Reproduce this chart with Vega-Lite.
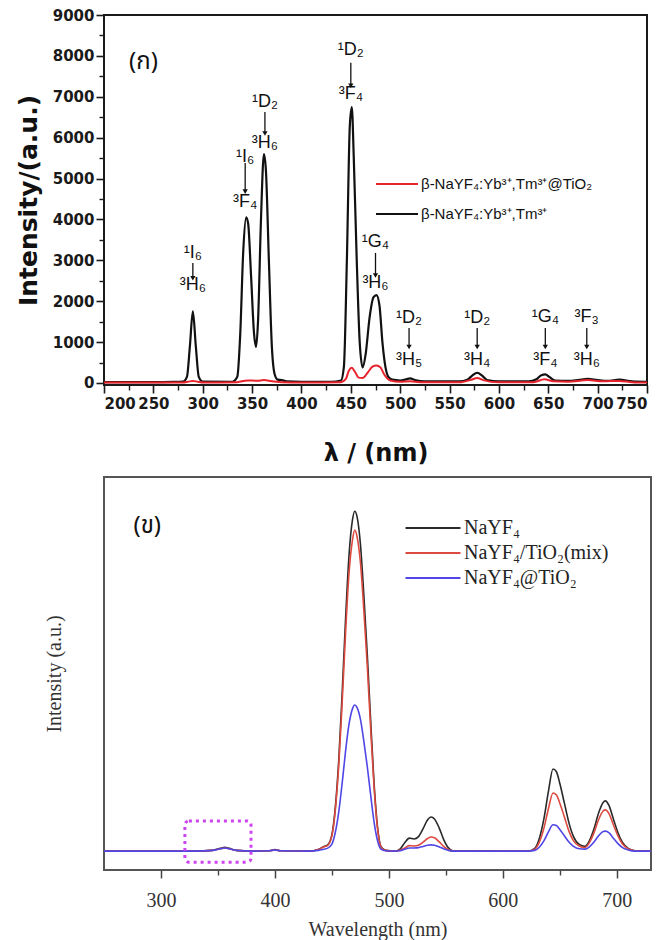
{
  "$schema": "https://vega.github.io/schema/vega-lite/v6.json",
  "background": "white",
  "padding": {"left": 15, "top": 7, "right": 4, "bottom": 2},
  "spacing": 10,
  "resolve": {"scale": {"color": "independent"}, "legend": {"color": "independent"}},
  "datasets": {
    "top": [
      {"s":"B","x":200,"y":20},{"s":"B","x":250,"y":20},{"s":"B","x":270,"y":25},{"s":"B","x":280,"y":35},{"s":"B","x":284,"y":150},{"s":"B","x":287,"y":900},{"s":"B","x":290,"y":1750},{"s":"B","x":293,"y":900},{"s":"B","x":296,"y":150},{"s":"B","x":300,"y":35},
      {"s":"B","x":330,"y":30},{"s":"B","x":335,"y":150},{"s":"B","x":338,"y":1200},{"s":"B","x":341,"y":3200},{"s":"B","x":344,"y":4050},{"s":"B","x":346,"y":3900},{"s":"B","x":349,"y":2600},{"s":"B","x":352,"y":1200},{"s":"B","x":354,"y":880},{"s":"B","x":356,"y":1500},{"s":"B","x":359,"y":4000},{"s":"B","x":362,"y":5600},{"s":"B","x":364,"y":5200},{"s":"B","x":367,"y":3000},{"s":"B","x":370,"y":900},{"s":"B","x":373,"y":200},{"s":"B","x":376,"y":80},{"s":"B","x":380,"y":70},{"s":"B","x":385,"y":40},
      {"s":"B","x":400,"y":30},{"s":"B","x":430,"y":30},{"s":"B","x":440,"y":60},{"s":"B","x":443,"y":400},{"s":"B","x":446,"y":3000},{"s":"B","x":449,"y":6300},{"s":"B","x":451,"y":6750},{"s":"B","x":453,"y":5500},{"s":"B","x":456,"y":3000},{"s":"B","x":459,"y":1000},{"s":"B","x":462,"y":380},{"s":"B","x":465,"y":700},{"s":"B","x":469,"y":1600},{"s":"B","x":473,"y":2100},{"s":"B","x":476,"y":2150},{"s":"B","x":479,"y":1900},{"s":"B","x":482,"y":1000},{"s":"B","x":485,"y":400},{"s":"B","x":488,"y":150},{"s":"B","x":492,"y":80},
      {"s":"B","x":500,"y":60},{"s":"B","x":505,"y":80},{"s":"B","x":510,"y":110},{"s":"B","x":515,"y":70},{"s":"B","x":525,"y":40},{"s":"B","x":560,"y":40},{"s":"B","x":568,"y":80},{"s":"B","x":573,"y":180},{"s":"B","x":578,"y":250},{"s":"B","x":583,"y":180},{"s":"B","x":588,"y":70},{"s":"B","x":600,"y":40},{"s":"B","x":630,"y":40},{"s":"B","x":638,"y":90},{"s":"B","x":643,"y":190},{"s":"B","x":647,"y":210},{"s":"B","x":651,"y":150},{"s":"B","x":657,"y":60},{"s":"B","x":670,"y":50},{"s":"B","x":680,"y":70},{"s":"B","x":690,"y":100},{"s":"B","x":700,"y":70},{"s":"B","x":710,"y":50},{"s":"B","x":722,"y":80},{"s":"B","x":735,"y":40},{"s":"B","x":750,"y":30},
      {"s":"A","x":200,"y":10},{"s":"A","x":280,"y":10},{"s":"A","x":285,"y":30},{"s":"A","x":290,"y":50},{"s":"A","x":295,"y":30},{"s":"A","x":300,"y":10},{"s":"A","x":335,"y":20},{"s":"A","x":345,"y":60},{"s":"A","x":355,"y":55},{"s":"A","x":362,"y":70},{"s":"A","x":370,"y":40},{"s":"A","x":380,"y":20},{"s":"A","x":400,"y":10},{"s":"A","x":440,"y":20},{"s":"A","x":445,"y":100},{"s":"A","x":448,"y":300},{"s":"A","x":451,"y":370},{"s":"A","x":454,"y":280},{"s":"A","x":458,"y":130},{"s":"A","x":462,"y":120},{"s":"A","x":467,"y":250},{"s":"A","x":472,"y":400},{"s":"A","x":476,"y":430},{"s":"A","x":480,"y":380},{"s":"A","x":484,"y":200},{"s":"A","x":490,"y":60},{"s":"A","x":500,"y":30},{"s":"A","x":510,"y":40},{"s":"A","x":520,"y":20},{"s":"A","x":560,"y":15},{"s":"A","x":572,"y":80},{"s":"A","x":578,"y":120},{"s":"A","x":584,"y":70},{"s":"A","x":600,"y":15},{"s":"A","x":635,"y":20},{"s":"A","x":646,"y":90},{"s":"A","x":655,"y":40},{"s":"A","x":670,"y":30},{"s":"A","x":690,"y":70},{"s":"A","x":705,"y":40},{"s":"A","x":722,"y":50},{"s":"A","x":735,"y":20},{"s":"A","x":750,"y":10}
    ],
    "topAnno": [
      {"x":290,"yu":3180,"yl":2400,"ys":2935,"ye":2560,"up":"¹I₆","lo":"³H₆"},
      {"x":343,"yu":5530,"yl":4430,"ys":5380,"ye":4680,"up":"¹I₆","lo":"³F₄"},
      {"x":363,"yu":6870,"yl":5870,"ys":6630,"ye":6100,"up":"¹D₂","lo":"³H₆"},
      {"x":450,"yu":8150,"yl":7070,"ys":7830,"ye":7270,"up":"¹D₂","lo":"³F₄"},
      {"x":475,"yu":3450,"yl":2450,"ys":3180,"ye":2630,"up":"¹G₄","lo":"³H₆"},
      {"x":509,"yu":1590,"yl":560,"ys":1345,"ye":880,"up":"¹D₂","lo":"³H₅"},
      {"x":578,"yu":1590,"yl":560,"ys":1345,"ye":880,"up":"¹D₂","lo":"³H₄"},
      {"x":647,"yu":1610,"yl":560,"ys":1345,"ye":880,"up":"¹G₄","lo":"³F₄"},
      {"x":689,"yu":1610,"yl":560,"ys":1345,"ye":880,"up":"³F₃","lo":"³H₆"}
    ],
    "topPanel": [{"x":240,"y":7850,"t":"(ก)"}],
    "bottom": [
      {"s":"N","x":250,"y":4.8},{"s":"N","x":300,"y":4.8},{"s":"N","x":330,"y":4.8},{"s":"N","x":345,"y":5.0},{"s":"N","x":352,"y":5.5},{"s":"N","x":356,"y":5.8},{"s":"N","x":360,"y":5.5},{"s":"N","x":366,"y":5.0},{"s":"N","x":380,"y":4.8},{"s":"N","x":395,"y":4.9},{"s":"N","x":400,"y":5.2},{"s":"N","x":405,"y":4.9},{"s":"N","x":430,"y":4.8},{"s":"N","x":438,"y":5.2},{"s":"N","x":443,"y":6.0},{"s":"N","x":446,"y":6.3},{"s":"N","x":450,"y":9},{"s":"N","x":453,"y":16},{"s":"N","x":456,"y":28},{"s":"N","x":459,"y":45},{"s":"N","x":462,"y":64},{"s":"N","x":465,"y":80},{"s":"N","x":468,"y":89},{"s":"N","x":470,"y":91.3},{"s":"N","x":472,"y":90},{"s":"N","x":475,"y":83},{"s":"N","x":478,"y":70},{"s":"N","x":481,"y":55},{"s":"N","x":484,"y":38},{"s":"N","x":487,"y":22},{"s":"N","x":490,"y":11},{"s":"N","x":493,"y":6},{"s":"N","x":497,"y":5},{"s":"N","x":505,"y":4.8},{"s":"N","x":510,"y":5.4},{"s":"N","x":514,"y":7.0},{"s":"N","x":518,"y":8.1},{"s":"N","x":522,"y":7.9},{"s":"N","x":526,"y":8.5},{"s":"N","x":530,"y":10.5},{"s":"N","x":534,"y":12.8},{"s":"N","x":537,"y":13.5},{"s":"N","x":540,"y":13.0},{"s":"N","x":544,"y":10.8},{"s":"N","x":548,"y":7.8},{"s":"N","x":552,"y":5.7},{"s":"N","x":556,"y":4.9},{"s":"N","x":600,"y":4.8},{"s":"N","x":622,"y":4.8},{"s":"N","x":628,"y":5.5},{"s":"N","x":632,"y":8},{"s":"N","x":636,"y":13},{"s":"N","x":640,"y":20},{"s":"N","x":644,"y":25.7},{"s":"N","x":647,"y":25},{"s":"N","x":650,"y":22},{"s":"N","x":654,"y":17},{"s":"N","x":658,"y":12},{"s":"N","x":662,"y":8.5},{"s":"N","x":667,"y":6.5},{"s":"N","x":672,"y":6},{"s":"N","x":676,"y":7.5},{"s":"N","x":680,"y":10.5},{"s":"N","x":684,"y":14.5},{"s":"N","x":688,"y":17.2},{"s":"N","x":690,"y":17.6},{"s":"N","x":693,"y":16.5},{"s":"N","x":697,"y":13},{"s":"N","x":701,"y":9.5},{"s":"N","x":705,"y":7},{"s":"N","x":710,"y":5.5},{"s":"N","x":716,"y":4.9},{"s":"N","x":730,"y":4.8},
      {"s":"M","x":250,"y":4.8},{"s":"M","x":300,"y":4.8},{"s":"M","x":330,"y":4.8},{"s":"M","x":345,"y":5.0},{"s":"M","x":352,"y":5.4},{"s":"M","x":356,"y":5.6},{"s":"M","x":360,"y":5.4},{"s":"M","x":366,"y":5.0},{"s":"M","x":380,"y":4.8},{"s":"M","x":395,"y":4.9},{"s":"M","x":400,"y":5.1},{"s":"M","x":405,"y":4.9},{"s":"M","x":430,"y":4.8},{"s":"M","x":438,"y":5.2},{"s":"M","x":443,"y":5.9},{"s":"M","x":446,"y":6.2},{"s":"M","x":450,"y":8.7},{"s":"M","x":453,"y":15.3},{"s":"M","x":456,"y":26.6},{"s":"M","x":459,"y":42.6},{"s":"M","x":462,"y":60.4},{"s":"M","x":465,"y":75.5},{"s":"M","x":468,"y":83.9},{"s":"M","x":470,"y":86.5},{"s":"M","x":472,"y":84.9},{"s":"M","x":475,"y":78.3},{"s":"M","x":478,"y":66.1},{"s":"M","x":481,"y":52.0},{"s":"M","x":484,"y":36.0},{"s":"M","x":487,"y":21.0},{"s":"M","x":490,"y":10.6},{"s":"M","x":493,"y":5.9},{"s":"M","x":497,"y":5.0},{"s":"M","x":505,"y":4.8},{"s":"M","x":510,"y":5.1},{"s":"M","x":514,"y":5.6},{"s":"M","x":518,"y":6.2},{"s":"M","x":522,"y":6.1},{"s":"M","x":526,"y":6.3},{"s":"M","x":530,"y":7.1},{"s":"M","x":534,"y":8.0},{"s":"M","x":537,"y":8.4},{"s":"M","x":540,"y":8.2},{"s":"M","x":544,"y":7.2},{"s":"M","x":548,"y":6.0},{"s":"M","x":552,"y":5.2},{"s":"M","x":556,"y":4.8},{"s":"M","x":600,"y":4.8},{"s":"M","x":622,"y":4.8},{"s":"M","x":628,"y":5.3},{"s":"M","x":632,"y":7.1},{"s":"M","x":636,"y":10.6},{"s":"M","x":640,"y":15.6},{"s":"M","x":644,"y":19.6},{"s":"M","x":647,"y":19.1},{"s":"M","x":650,"y":17.0},{"s":"M","x":654,"y":13.5},{"s":"M","x":658,"y":9.9},{"s":"M","x":662,"y":7.4},{"s":"M","x":667,"y":6.1},{"s":"M","x":672,"y":5.7},{"s":"M","x":676,"y":7.0},{"s":"M","x":680,"y":9.5},{"s":"M","x":684,"y":12.8},{"s":"M","x":688,"y":15.0},{"s":"M","x":690,"y":15.3},{"s":"M","x":693,"y":14.4},{"s":"M","x":697,"y":11.5},{"s":"M","x":701,"y":8.7},{"s":"M","x":705,"y":6.6},{"s":"M","x":710,"y":5.4},{"s":"M","x":716,"y":4.9},{"s":"M","x":730,"y":4.8},
      {"s":"T","x":250,"y":4.8},{"s":"T","x":300,"y":4.8},{"s":"T","x":330,"y":4.8},{"s":"T","x":345,"y":5.0},{"s":"T","x":352,"y":5.4},{"s":"T","x":356,"y":5.6},{"s":"T","x":360,"y":5.4},{"s":"T","x":366,"y":5.0},{"s":"T","x":380,"y":4.8},{"s":"T","x":395,"y":4.9},{"s":"T","x":400,"y":5.1},{"s":"T","x":405,"y":4.9},{"s":"T","x":430,"y":4.8},{"s":"T","x":438,"y":5.0},{"s":"T","x":443,"y":5.3},{"s":"T","x":446,"y":5.5},{"s":"T","x":450,"y":6.6},{"s":"T","x":453,"y":9.6},{"s":"T","x":456,"y":14.8},{"s":"T","x":459,"y":22.1},{"s":"T","x":462,"y":30.3},{"s":"T","x":465,"y":37.1},{"s":"T","x":468,"y":41.0},{"s":"T","x":470,"y":42.0},{"s":"T","x":472,"y":41.4},{"s":"T","x":475,"y":38.4},{"s":"T","x":478,"y":32.8},{"s":"T","x":481,"y":26.4},{"s":"T","x":484,"y":19.1},{"s":"T","x":487,"y":12.2},{"s":"T","x":490,"y":7.5},{"s":"T","x":493,"y":5.3},{"s":"T","x":497,"y":4.9},{"s":"T","x":505,"y":4.8},{"s":"T","x":510,"y":4.9},{"s":"T","x":514,"y":5.3},{"s":"T","x":518,"y":5.6},{"s":"T","x":522,"y":5.6},{"s":"T","x":526,"y":5.7},{"s":"T","x":530,"y":6.0},{"s":"T","x":534,"y":6.3},{"s":"T","x":537,"y":6.4},{"s":"T","x":540,"y":6.3},{"s":"T","x":544,"y":5.9},{"s":"T","x":548,"y":5.4},{"s":"T","x":552,"y":5.0},{"s":"T","x":556,"y":4.8},{"s":"T","x":600,"y":4.8},{"s":"T","x":622,"y":4.8},{"s":"T","x":628,"y":5.0},{"s":"T","x":632,"y":5.8},{"s":"T","x":636,"y":7.4},{"s":"T","x":640,"y":9.7},{"s":"T","x":644,"y":11.5},{"s":"T","x":647,"y":11.3},{"s":"T","x":650,"y":10.3},{"s":"T","x":654,"y":8.7},{"s":"T","x":658,"y":7.1},{"s":"T","x":662,"y":6.0},{"s":"T","x":667,"y":5.4},{"s":"T","x":672,"y":5.3},{"s":"T","x":676,"y":5.9},{"s":"T","x":680,"y":7.1},{"s":"T","x":684,"y":8.7},{"s":"T","x":688,"y":9.8},{"s":"T","x":690,"y":9.9},{"s":"T","x":693,"y":9.5},{"s":"T","x":697,"y":8.1},{"s":"T","x":701,"y":6.7},{"s":"T","x":705,"y":5.7},{"s":"T","x":710,"y":5.1},{"s":"T","x":716,"y":4.8},{"s":"T","x":730,"y":4.8}
    ],
    "box": [{"x1":321,"x2":379,"y1":2.0,"y2":12.5}],
    "bottomPanel": [{"x":288,"y":87.5,"t":"(ข)"}]
  },
  "vconcat": [
    {
      "width": 543,
      "height": 370,
      "view": {"stroke": "#1a1a1a", "strokeWidth": 2},
      "resolve": {"axis": {"x": "independent", "y": "independent"}},
      "layer": [
        {
          "data": {"name": "top"},
          "transform": [{"filter": "datum.s == 'B'"}],
          "mark": {"type": "line", "strokeWidth": 2.2, "interpolate": "monotone"},
          "encoding": {
            "x": {"field": "x", "type": "quantitative", "scale": {"domain": [200, 750], "nice": false, "zero": false},
              "axis": {"orient": "bottom", "values": [200,250,300,350,400,450,500,550,600,650,700,750], "format": "d", "title": "λ / (nm)", "domain": false, "grid": false, "tickSize": 8, "tickWidth": 1.6, "tickColor": "#1a1a1a", "labelFont": "DejaVu Sans", "labelFontWeight": "bold", "labelFontSize": 15, "labelColor": "#1a1a1a", "labelPadding": 3, "titleFont": "DejaVu Sans", "titleFontWeight": "bold", "titleFontSize": 24, "titleColor": "#111", "titlePadding": 30}},
            "y": {"field": "y", "type": "quantitative", "scale": {"domain": [-50, 9000], "nice": false, "zero": false},
              "axis": {"orient": "left", "values": [0,1000,2000,3000,4000,5000,6000,7000,8000,9000], "format": "d", "title": "Intensity/(a.u.)", "domain": false, "grid": false, "tickSize": 8, "tickWidth": 1.6, "tickColor": "#1a1a1a", "labelFont": "DejaVu Sans", "labelFontWeight": "bold", "labelFontSize": 15, "labelColor": "#1a1a1a", "labelPadding": 2, "titleFont": "DejaVu Sans", "titleFontWeight": "bold", "titleFontSize": 25, "titleColor": "#111", "titlePadding": 11}},
            "color": {"field": "s", "type": "nominal", "scale": {"domain": ["A", "B"], "range": ["#e8232d", "#111111"]},
              "legend": {"orient": "none", "legendX": 271, "legendY": 147, "title": null, "symbolType": "stroke", "symbolSize": 1764, "symbolStrokeWidth": 2, "labelFont": "Liberation Sans Narrow, Liberation Sans", "labelFontSize": 15, "labelColor": "#111", "labelLimit": 400, "rowPadding": -14, "labelOffset": 2,
                "labelExpr": "datum.value == 'A' ? 'β-NaYF₄:Yb³⁺,Tm³⁺@TiO₂' : 'β-NaYF₄:Yb³⁺,Tm³⁺'"}}
          }
        },
        {
          "data": {"name": "top"},
          "transform": [{"filter": "datum.s == 'A'"}],
          "mark": {"type": "line", "strokeWidth": 2, "interpolate": "monotone", "color": "#e8232d"},
          "encoding": {
            "x": {"field": "x", "type": "quantitative",
              "axis": {"orient": "bottom", "values": [225,275,325,375,425,475,525,575,625,675,725], "title": null, "labels": false, "domain": false, "grid": false, "tickSize": 5, "tickWidth": 1.4, "tickColor": "#1a1a1a"}},
            "y": {"field": "y", "type": "quantitative",
              "axis": {"orient": "left", "values": [500,1500,2500,3500,4500,5500,6500,7500,8500], "title": null, "labels": false, "domain": false, "grid": false, "tickSize": 5, "tickWidth": 1.4, "tickColor": "#1a1a1a"}}
          }
        },
        {
          "data": {"name": "topAnno"},
          "mark": {"type": "text", "font": "Liberation Sans", "fontSize": 18, "color": "#111", "baseline": "middle", "align": "center"},
          "encoding": {
            "x": {"field": "x", "type": "quantitative", "axis": null},
            "y": {"field": "yu", "type": "quantitative", "axis": null},
            "text": {"field": "up"}
          }
        },
        {
          "data": {"name": "topAnno"},
          "mark": {"type": "text", "font": "Liberation Sans", "fontSize": 18, "color": "#111", "baseline": "middle", "align": "center"},
          "encoding": {
            "x": {"field": "x", "type": "quantitative", "axis": null},
            "y": {"field": "yl", "type": "quantitative", "axis": null},
            "text": {"field": "lo"}
          }
        },
        {
          "data": {"name": "topAnno"},
          "mark": {"type": "rule", "color": "#111", "strokeWidth": 1.3},
          "encoding": {
            "x": {"field": "x", "type": "quantitative", "axis": null},
            "y": {"field": "ys", "type": "quantitative", "axis": null},
            "y2": {"field": "ye"}
          }
        },
        {
          "data": {"name": "topAnno"},
          "mark": {"type": "point", "shape": "triangle-down", "filled": true, "color": "#111", "size": 28, "opacity": 1},
          "encoding": {
            "x": {"field": "x", "type": "quantitative", "axis": null},
            "y": {"field": "ye", "type": "quantitative", "axis": null}
          }
        },
        {
          "data": {"name": "topPanel"},
          "mark": {"type": "text", "font": "Noto Sans Thai, Noto Sans, DejaVu Sans", "fontSize": 24, "color": "#111", "baseline": "middle", "align": "center"},
          "encoding": {
            "x": {"field": "x", "type": "quantitative", "axis": null},
            "y": {"field": "y", "type": "quantitative", "axis": null},
            "text": {"field": "t"}
          }
        }
      ]
    },
    {
      "width": 547,
      "height": 393,
      "view": {"stroke": "#555555", "strokeWidth": 2},
      "resolve": {"axis": {"x": "independent", "y": "independent"}},
      "layer": [
        {
          "data": {"name": "bottom"},
          "mark": {"type": "line", "strokeWidth": 1.6, "interpolate": "monotone"},
          "encoding": {
            "x": {"field": "x", "type": "quantitative", "scale": {"domain": [250, 730], "nice": false, "zero": false},
              "axis": {"orient": "bottom", "values": [300,400,500,600,700], "format": "d", "title": "Wavelength (nm)", "domain": false, "grid": false, "tickSize": 8, "tickWidth": 1.5, "tickColor": "#444", "labelFont": "Liberation Serif", "labelFontSize": 20, "labelColor": "#333", "labelPadding": 12, "titleFont": "Liberation Serif", "titleFontWeight": "normal", "titleFontSize": 20, "titleColor": "#333", "titlePadding": 9}},
            "y": {"field": "y", "type": "quantitative", "scale": {"domain": [0, 100], "nice": false, "zero": false},
              "axis": {"orient": "left", "title": "Intensity (a.u.)", "labels": false, "ticks": false, "domain": false, "grid": false, "titleFont": "Liberation Serif", "titleFontWeight": "normal", "titleFontSize": 20, "titleColor": "#333", "titlePadding": 40}},
            "color": {"field": "s", "type": "nominal", "scale": {"domain": ["N", "M", "T"], "range": ["#2a2a2a", "#dc4a40", "#4f46e5"]},
              "legend": {"orient": "none", "legendX": 314, "legendY": 36, "title": null, "symbolType": "M-2,0H2", "symbolSize": 756, "symbolStrokeWidth": 1.8, "labelFont": "Liberation Serif", "labelFontSize": 20, "labelColor": "#222", "labelLimit": 400, "rowPadding": -3, "labelOffset": 16,
                "labelExpr": "datum.value == 'N' ? 'NaYF₄' : (datum.value == 'M' ? 'NaYF₄/TiO₂(mix)' : 'NaYF₄@TiO₂')"}},
            "order": {"field": "x", "type": "quantitative"}
          }
        },
        {
          "data": {"name": "box"},
          "mark": {"type": "rect", "fill": null, "fillOpacity": 0, "stroke": "#cc44ee", "strokeWidth": 3, "strokeDash": [3, 4], "cornerRadius": 4},
          "encoding": {
            "x": {"field": "x1", "type": "quantitative",
              "axis": {"orient": "bottom", "values": [350,450,550,650], "title": null, "labels": false, "domain": false, "grid": false, "tickSize": 5, "tickWidth": 1.4, "tickColor": "#444"}},
            "x2": {"field": "x2"},
            "y": {"field": "y1", "type": "quantitative", "axis": null},
            "y2": {"field": "y2"}
          }
        },
        {
          "data": {"name": "bottomPanel"},
          "mark": {"type": "text", "font": "Noto Sans Thai, Noto Sans, DejaVu Sans", "fontSize": 24, "color": "#111", "baseline": "middle", "align": "center"},
          "encoding": {
            "x": {"field": "x", "type": "quantitative", "axis": null},
            "y": {"field": "y", "type": "quantitative", "axis": null},
            "text": {"field": "t"}
          }
        }
      ]
    }
  ]
}
